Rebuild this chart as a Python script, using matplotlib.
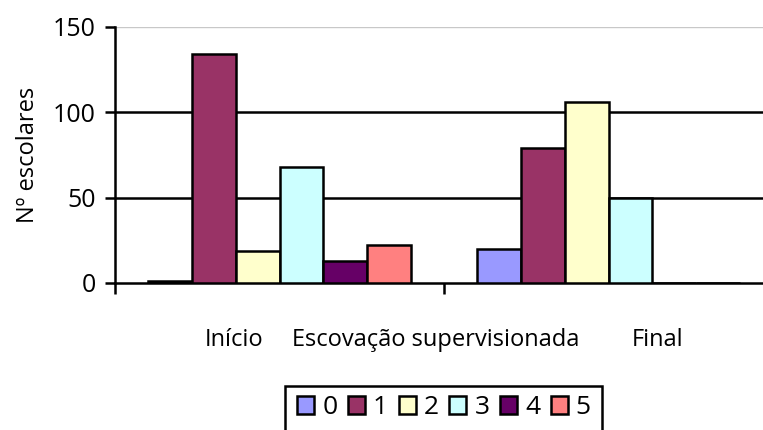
import numpy as np
import matplotlib
matplotlib.use("Agg")
import matplotlib.pyplot as plt
from matplotlib.patches import Patch, Rectangle

# number of children per score (0-5), before and after supervised brushing
categories = ["Início", "Final"]
series_names = ["0", "1", "2", "3", "4", "5"]
score0 = [1, 20]
score1 = [134, 79]
score2 = [19, 106]
score3 = [68, 50]
score4 = [13, 0]
score5 = [22, 0]
values = [score0, score1, score2, score3, score4, score5]
colors = ["#9999FF", "#993366", "#FFFFCC", "#CCFFFF", "#660066", "#FF8080"]

plt.rcParams["font.family"] = ["Open Sans", "DejaVu Sans"]
FS = 17

W, H = 763, 430
fig = plt.figure(figsize=(W / 100, H / 100), dpi=100)
# plot area runs a little past the right edge, like the original sheet export
ax = fig.add_axes([115 / W, 1 - 283 / H, (773 - 115) / W, (283 - 27) / H])

n = len(series_names)
slot = 1 / (n + 1.5)          # Excel-style gap width of 150%
x = np.arange(len(categories))
for i, (vals, c) in enumerate(zip(values, colors)):
    off = -0.5 + (0.75 + i + 0.5) * slot
    ax.bar(x + off, vals, slot, color=c, edgecolor="black", linewidth=1.8, zorder=3)

ax.set_xlim(-0.5, len(categories) - 0.5)
ax.set_ylim(0, 150)
ax.set_yticks([0, 50, 100, 150])
ax.set_xticks([-0.5, 0.5, 1.5])
ax.set_xticklabels([])
for y in (50, 100):
    ax.axhline(y, color="black", lw=1.8, zorder=1)
ax.axhline(150, color="#c8c8c8", lw=1, zorder=1)

for s in ("top", "right"):
    ax.spines[s].set_visible(False)
ax.spines["left"].set_linewidth(1.8)
ax.spines["bottom"].set_linewidth(1.8)
ax.tick_params(axis="y", direction="out", length=7, width=1.8, labelsize=18, pad=7)
ax.tick_params(axis="x", direction="out", length=8, width=1.8)
ax.set_ylabel("Nº escolares", fontsize=FS, labelpad=9)

# category captions sit on one line under the axis
ty = 1 - 340 / H
fig.text(205 / W, ty, "Início", fontsize=FS, ha="left", va="center")
fig.text(292 / W, ty, "Escovação supervisionada", fontsize=FS, ha="left", va="center")
fig.text(683 / W, ty, "Final", fontsize=FS, ha="right", va="center")

# legend box, its lower edge falls below the image
fig.patches.append(Rectangle((285 / W, -0.05), (602 - 285) / W, 0.05 + (430 - 386) / H,
                             transform=fig.transFigure, facecolor="white",
                             edgecolor="black", linewidth=1.8, zorder=1))
handles = [Patch(facecolor=c, edgecolor="black", linewidth=1.8) for c in colors]
leg = fig.legend(handles, series_names, ncol=n, loc="center",
                 bbox_to_anchor=(444 / W, 1 - 408 / H), fontsize=19,
                 frameon=False, handlelength=0.65, handleheight=0.65,
                 handletextpad=0.3, columnspacing=0.4, borderpad=0)
leg.set_zorder(2)

fig.savefig("out.png", dpi=100)
